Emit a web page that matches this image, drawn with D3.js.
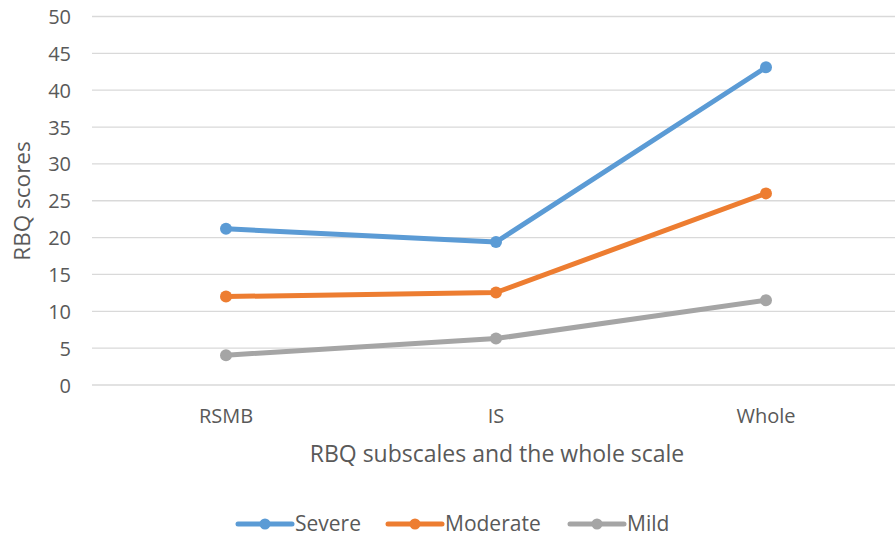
<!DOCTYPE html>
<html><head><meta charset="utf-8">
<script src="https://cdn.jsdelivr.net/npm/d3@7"></script>
<style>body{margin:0;background:#fff}svg{display:block}text{font-family:"Open Sans",sans-serif;fill:#595959}</style>
</head><body><svg id="c" width="895" height="540"></svg>
<script>
const categories = ["RSMB", "IS", "Whole"];
const seriesNames = ["Severe", "Moderate", "Mild"];
const severe = [21.2, 19.4, 43.1];
const moderate = [12.0, 12.55, 26.0];
const mild = [4.05, 6.3, 11.5];
const yTicks = [0, 5, 10, 15, 20, 25, 30, 35, 40, 45, 50];
const colors = ["#5B9BD5", "#ED7D31", "#A5A5A5"];
const seriesValues = [severe, moderate, mild];

const svg = d3.select("#c");
const x = d3.scaleBand().domain(categories).range([91, 901]);
const y = d3.scaleLinear().domain([0, 50]).range([385, 16.5]);

// gridlines
svg.append("g").selectAll("line").data(yTicks).join("line")
  .attr("x1", 92).attr("x2", 895)
  .attr("y1", d => y(d)).attr("y2", d => y(d))
  .attr("stroke", "#d9d9d9").attr("stroke-width", 1.3);

// y axis labels
const yAxis = d3.axisLeft(y).tickValues(yTicks).tickSize(0).tickPadding(0);
const gy = svg.append("g").attr("transform", "translate(71,0)").call(yAxis);
gy.select(".domain").remove();
gy.selectAll("text").style("font-size", "20px").attr("fill", "#595959").attr("dy", "0.35em");

// x axis labels
const xAxis = d3.axisBottom(x).tickSize(0).tickPadding(0);
const gx = svg.append("g").attr("transform", "translate(0,416)").call(xAxis);
gx.select(".domain").remove();
gx.selectAll("text").style("font-size", "20px").attr("fill", "#595959").attr("dy", "0.35em");

// titles
svg.append("text").attr("x", 497).attr("y", 454).attr("dy", "0.35em").attr("text-anchor", "middle")
  .style("font-size", "23px").text("RBQ subscales and the whole scale");
svg.append("text").attr("transform", "translate(22,201) rotate(-90)").attr("dy", "0.35em").attr("text-anchor", "middle")
  .style("font-size", "22.5px").text("RBQ scores");

const cx = d => x(d) + x.bandwidth() / 2;
const line = d3.line().x(d => cx(d.c)).y(d => y(d.v));

seriesValues.forEach((vals, i) => {
  const pts = categories.map((c, j) => ({c, v: vals[j]}));
  svg.append("path").datum(pts).attr("d", line).attr("fill", "none")
    .attr("stroke", colors[i]).attr("stroke-width", 5).attr("stroke-linejoin", "round");
  svg.append("g").selectAll("circle").data(pts).join("circle")
    .attr("cx", d => cx(d.c)).attr("cy", d => y(d.v)).attr("r", 6).attr("fill", colors[i]);
});

// legend
const legX = [238, 388, 570];
const leg = svg.append("g");
seriesNames.forEach((n, i) => {
  const g = leg.append("g").attr("transform", `translate(${legX[i]},524)`);
  g.append("line").attr("x1", 0).attr("x2", 54).attr("stroke", colors[i]).attr("stroke-width", 5).attr("stroke-linecap", "round");
  g.append("circle").attr("cx", 27).attr("r", 5.5).attr("fill", colors[i]);
  g.append("text").attr("x", 57).attr("dy", "0.35em").style("font-size", "21px").text(n);
});
</script></body></html>
